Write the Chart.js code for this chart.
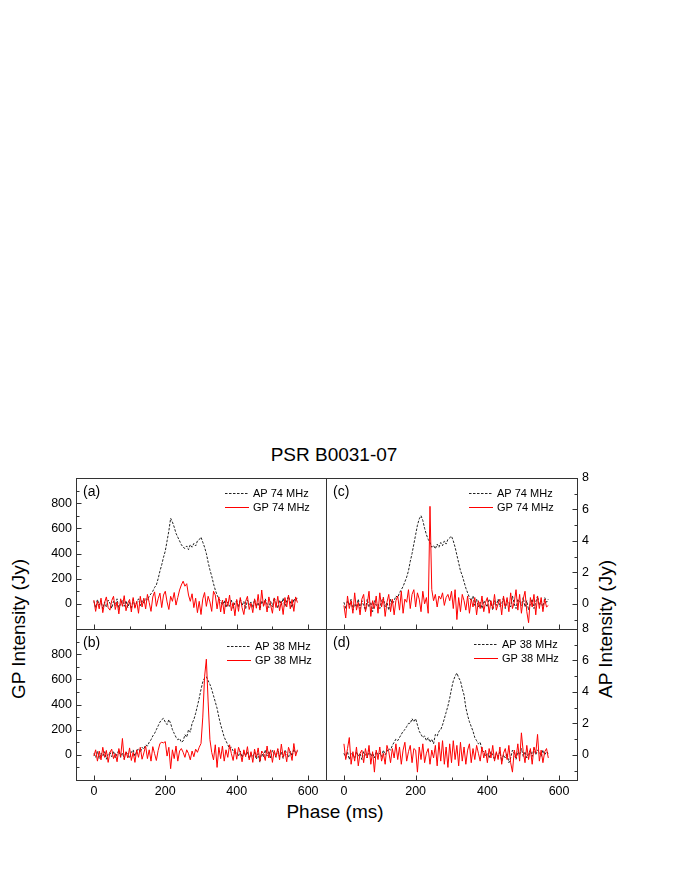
<!DOCTYPE html>
<html><head><meta charset="utf-8">
<script src="https://cdn.jsdelivr.net/npm/chart.js@4"></script>
<style>
html,body{margin:0;padding:0;background:#fff;}
#wrap{position:relative;width:675px;height:873px;overflow:hidden;font-family:"Liberation Sans",Arial,sans-serif;color:#000;}
.pc{position:absolute;}
.txt{position:absolute;white-space:nowrap;line-height:1;}
</style></head><body>
<div id="wrap">
 <div class="txt" style="left:334px;top:454px;font-size:19px;transform:translate(-50%,-50%);">PSR B0031-07</div>
 <div class="txt" style="left:18px;top:629px;font-size:19px;transform:translate(-50%,-50%) rotate(-90deg);">GP Intensity (Jy)</div>
 <div class="txt" style="left:605px;top:629px;font-size:19px;transform:translate(-50%,-50%) rotate(-90deg);">AP Intensity (Jy)</div>
 <div class="txt" style="left:335px;top:811px;font-size:19px;transform:translate(-50%,-50%);">Phase (ms)</div>
</div>
<script>
// ---- data ----
const phase = [0,5,10,15,20,25,30,35,40,45,50,55,60,65,70,75,80,85,90,95,100,105,110,115,120,125,130,135,140,145,150,155,160,165,170,175,180,185,190,195,200,205,210,215,220,225,230,235,240,245,250,255,260,265,270,275,280,285,290,295,300,305,310,315,320,325,330,335,340,345,350,355,360,365,370,375,380,385,390,395,400,405,410,415,420,425,430,435,440,445,450,455,460,465,470,475,480,485,490,495,500,505,510,515,520,525,530,535,540,545,550,555,560,565,570];

// (a) 74 MHz, GP-intensity units
const apA = [20,-30,35,-10,25,-40,15,-25,30,5,
 -35,20,-15,40,-45,10,30,-20,25,-30,
 15,-40,35,-25,10,40,-15,30,5,45,
 30,60,80,100,130,150,200,260,310,370,
 420,500,580,680,650,610,560,530,500,470,
 450,440,460,430,470,450,480,460,500,510,
 530,490,450,400,330,270,220,160,110,70,
 40,20,-10,25,-30,15,-20,30,-35,10,
 25,-25,40,-15,20,-40,30,-10,15,-30,
 35,-20,10,-45,25,-15,40,-5,-30,20,
 -25,50,10,-35,30,-10,45,-20,25,60,
 15,-30,40,20,55];
const gpA = [30,-60,20,-40,45,-70,10,55,-30,-50,
 25,60,-45,15,-80,40,-20,65,-55,5,
 35,-65,50,-35,20,-75,60,-25,45,-40,
 75,10,-60,55,95,-20,40,85,-30,70,
 100,15,-45,60,20,90,-10,50,110,150,
 180,140,160,70,20,80,-30,45,-70,20,
 -85,40,90,-20,60,15,-60,100,70,-40,
 55,-65,30,-80,45,-20,70,-55,10,-95,
 35,-60,50,-30,-85,20,60,-45,5,-70,
 40,-35,75,-50,110,-20,30,-65,55,-10,
 -75,45,-30,60,-55,20,-85,50,-25,70,
 -40,35,-60,55,10];

// (b) 38 MHz, GP-intensity units
const apB = [10,-20,30,-30,15,-10,25,-35,5,20,
 -15,30,-25,10,35,-20,15,-30,25,0,
 -25,20,40,-10,30,50,20,60,45,80,
 70,100,120,150,170,200,230,260,280,290,
 260,240,280,250,200,170,140,120,130,100,
 110,160,140,200,180,250,280,330,390,450,
 520,580,610,620,590,560,520,470,420,370,
 300,240,190,140,110,80,50,60,30,10,
 20,-10,30,-20,15,-5,25,-30,10,-15,
 20,-35,10,-60,25,-20,40,-10,30,-25,
 35,10,-20,45,-15,25,-30,40,10,-20,
 30,-10,45,15,25];
const gpB = [-10,40,-50,30,-40,60,-20,35,-60,20,
 45,-30,10,-55,50,-15,130,-40,25,-25,
 55,-45,20,-60,40,-20,60,-35,15,70,
 -30,40,-50,65,10,-45,35,90,100,95,
 105,-10,60,-110,40,-30,70,-50,30,50,
 20,-20,40,10,-40,30,-15,45,20,60,
 90,300,620,760,420,120,20,-40,80,-100,
 60,-30,70,-50,40,-20,80,10,-45,50,
 -35,60,20,-55,40,-15,65,-40,25,-60,
 45,-20,55,-50,30,10,-45,70,-25,40,
 -60,35,-15,50,-40,85,-20,30,-55,60,
 20,-45,90,-10,40];

// (c) 74 MHz, AP-intensity units
const apC = [0.1,-0.3,0.2,-0.1,0.3,-0.4,0.0,-0.2,0.3,-0.3,
 0.2,-0.1,-0.4,0.3,-0.2,0.1,-0.5,0.2,-0.1,0.0,
 -0.3,0.2,0.4,-0.2,0.1,-0.4,0.3,0.0,0.2,0.5,
 0.4,0.7,0.9,1.1,1.4,1.7,2.1,2.7,3.2,3.8,
 4.4,5.0,5.4,5.6,5.3,4.8,4.4,4.1,3.9,3.6,
 3.7,3.5,3.8,3.6,3.9,3.7,4.0,3.8,4.1,4.2,
 4.3,4.0,3.6,3.1,2.6,2.1,1.8,1.4,1.0,0.7,
 0.4,0.2,0.5,-0.1,0.3,-0.2,0.1,-0.3,0.2,0.0,
 -0.2,0.3,0.1,-0.4,0.2,-0.1,0.3,-0.2,0.0,0.4,
 -0.3,0.2,0.1,-0.2,0.5,0.0,-0.3,0.3,0.1,-0.1,
 0.4,-0.2,0.2,-0.4,0.0,0.3,-0.3,0.1,0.5,-0.1,
 0.2,-0.3,0.4,0.1,0.3];
const gpC = [-0.1,-0.9,0.5,-0.3,0.2,-0.6,0.7,-0.4,0.1,-0.7,
 0.3,0.6,-0.5,0.0,0.8,-0.8,0.2,-0.3,0.5,-0.6,
 0.7,-0.2,0.4,-0.8,0.1,0.6,-0.5,0.3,-0.7,0.2,
 0.5,-0.4,0.8,-0.6,0.3,0.1,0.9,-0.3,0.6,0.9,
 -0.2,0.7,0.3,-0.5,0.8,0.0,0.4,-0.6,6.2,0.9,
 0.2,0.6,-0.2,0.5,0.3,0.7,-0.1,0.4,0.6,0.2,
 0.8,-0.3,0.9,-1.0,0.4,-0.5,0.6,0.2,-0.4,0.5,
 -0.6,0.3,-0.2,0.4,-0.7,0.2,-0.3,0.5,-0.5,0.1,
 0.4,-0.6,0.2,-0.3,0.6,-0.4,0.0,0.3,-0.7,0.5,
 -0.2,0.4,-0.5,0.7,-0.3,0.1,0.9,-0.4,0.6,-0.6,
 0.3,0.8,-0.5,-1.2,0.4,-0.2,0.6,-0.7,0.5,-0.3,
 0.4,-0.5,0.3,-0.2,-0.1];

// (d) 38 MHz, AP-intensity units
const apD = [0.1,-0.2,0.2,-0.3,0.1,0.0,-0.2,0.2,-0.1,0.1,
 -0.3,0.2,0.0,-0.2,0.3,-0.1,0.1,-0.2,0.2,0.0,
 0.1,-0.1,0.3,0.0,0.2,0.4,0.3,0.6,0.8,1.0,
 0.9,1.1,1.3,1.5,1.6,1.8,2.0,2.0,2.3,2.1,
 2.3,1.9,1.5,1.3,1.1,1.2,0.9,1.1,0.8,1.0,
 0.7,1.3,1.2,1.5,1.6,1.9,2.3,2.7,3.1,3.6,
 4.2,4.7,5.0,5.2,4.9,4.7,4.2,3.8,3.0,2.5,
 2.1,1.8,1.5,1.1,0.9,0.7,0.8,0.3,0.2,-0.1,
 0.1,-0.2,0.2,0.0,-0.3,0.1,-0.1,0.2,-0.4,0.0,
 -0.2,0.1,-0.5,-0.2,0.3,0.1,-0.3,0.2,0.0,0.4,
 -0.1,0.2,-0.2,0.1,0.3,-0.1,0.4,0.0,0.3,0.2,
 -0.1,0.3,0.0,0.2,0.1];
const gpD = [0.7,-0.3,0.4,1.1,-0.6,0.2,-0.4,0.5,-0.7,0.1,
 0.3,-0.5,0.4,-0.2,0.6,-0.6,0.2,-1.1,0.3,-0.3,
 0.5,-0.4,0.1,-0.6,0.6,0.2,-0.5,0.4,-0.2,0.7,
 -0.3,0.5,-0.6,0.3,0.8,-0.4,0.2,0.6,-0.5,0.4,
 0.3,-1.1,0.5,-0.3,0.7,-0.5,0.1,0.4,-0.6,0.3,
 -0.2,0.6,-0.7,0.8,-0.4,0.9,-0.6,0.5,-0.8,0.7,
 -0.5,0.9,-0.3,0.6,-0.7,0.8,-0.4,0.5,-0.6,0.3,
 0.7,-0.5,0.4,-0.3,0.6,0.1,-0.4,0.5,-0.2,0.3,
 -0.5,0.4,-0.2,0.6,-0.4,0.2,-0.3,0.5,-0.6,0.1,
 0.4,-0.3,0.6,-0.5,-1.1,0.3,-0.2,0.7,-0.4,1.4,
 0.2,-0.5,0.6,-0.3,0.4,-0.6,0.5,0.1,1.3,-0.4,
 0.3,-0.5,0.2,0.4,-0.2];

// ticks
const phaseTicks = [0,200,400,600];
const phaseMarks = [0,100,200,300,400,500,600];
const gpTicks = [0,200,400,600,800];
const gpMarks = [-100,0,100,200,300,400,500,600,700,800,900];
const apTicks = [0,2,4,6,8];
const apMarks = [-1,0,1,2,3,4,5,6,7,8];
const gpRange = [-200,1000];
const apRange = [-1.6,8];
const phaseRange = [-50,650];

// ---- layout ----
const FONT = '"Liberation Sans", Arial, sans-serif';
const panels = [
 {tag:'(a)', box:[76,478,250,151], side:'left',  xLabels:false, drawTop:true,  ap:apA, gp:gpA, apLabel:'AP 74 MHz', gpLabel:'GP 74 MHz', leg:[149,15]},
 {tag:'(b)', box:[76,629,250,151], side:'left',  xLabels:true,  drawTop:false, ap:apB, gp:gpB, apLabel:'AP 38 MHz', gpLabel:'GP 38 MHz', leg:[151,17]},
 {tag:'(c)', box:[326,478,251,151], side:'right', xLabels:false, drawTop:true,  ap:apC, gp:gpC, apLabel:'AP 74 MHz', gpLabel:'GP 74 MHz', leg:[143,15]},
 {tag:'(d)', box:[326,629,251,151], side:'right', xLabels:true,  drawTop:false, ap:apD, gp:gpD, apLabel:'AP 38 MHz', gpLabel:'GP 38 MHz', leg:[148,15]}
];

const framePlugin = {
  id: 'frame',
  afterDraw(chart, args, o) {
    const ctx = chart.ctx, a = chart.chartArea;
    const L = Math.round(a.left), T = Math.round(a.top), R = Math.round(a.right), B = Math.round(a.bottom);
    ctx.save();
    ctx.strokeStyle = '#333'; ctx.lineWidth = 1; ctx.setLineDash([]);
    ctx.beginPath();
    ctx.moveTo(L + 0.5, T); ctx.lineTo(L + 0.5, B + 1);
    ctx.moveTo(R + 0.5, T); ctx.lineTo(R + 0.5, B + 1);
    ctx.moveTo(L, B + 0.5); ctx.lineTo(R + 1, B + 0.5);
    if (o.drawTop) { ctx.moveTo(L, T + 0.5); ctx.lineTo(R + 1, T + 0.5); }
    const xs = chart.scales.x, ys = chart.scales.y;
    o.xMarks.forEach(v => {
      const px = Math.round(xs.getPixelForValue(v)) + 0.5;
      const len = o.xMajor.includes(v) ? 5 : 3;
      ctx.moveTo(px, B + 0.5); ctx.lineTo(px, B + 0.5 - len);
    });
    o.yMarks.forEach(v => {
      const py = Math.round(ys.getPixelForValue(v)) + 0.5;
      const len = o.yMajor.includes(v) ? 5 : 3;
      if (o.side === 'left') { ctx.moveTo(L + 0.5, py); ctx.lineTo(L + 0.5 + len, py); }
      else { ctx.moveTo(R + 0.5, py); ctx.lineTo(R + 0.5 - len, py); }
    });
    ctx.stroke();
    // panel tag
    ctx.fillStyle = '#000';
    ctx.font = '14px ' + FONT;
    ctx.textBaseline = 'middle'; ctx.textAlign = 'left';
    ctx.fillText(o.tag, L + 7, T + 14);
    // legend
    ctx.font = '11px ' + FONT;
    const ds = chart.data.datasets;
    ds.forEach((d, i) => {
      const lx = L + o.leg[0], ly = Math.round(T + o.leg[1] + i * 14) + 0.5;
      ctx.strokeStyle = d.borderColor; ctx.lineWidth = d.borderWidth;
      ctx.setLineDash(d.borderDash || []);
      ctx.beginPath(); ctx.moveTo(lx, ly); ctx.lineTo(lx + 24, ly); ctx.stroke();
      ctx.setLineDash([]);
      ctx.fillText(d.label, lx + 28, ly);
    });
    ctx.restore();
  }
};

const wrap = document.getElementById('wrap');
panels.forEach(p => {
  const [bx, by, bw, bh] = p.box;
  const padL = 50, padR = 50, padT = 20, padB = 28;
  const W = bw + padL + padR, H = bh + padT + padB;
  const div = document.createElement('div');
  div.className = 'pc';
  div.style.left = (bx - padL) + 'px'; div.style.top = (by - padT) + 'px';
  div.style.width = W + 'px'; div.style.height = H + 'px';
  const cv = document.createElement('canvas');
  cv.width = W; cv.height = H; cv.style.width = W + 'px'; cv.style.height = H + 'px';
  div.appendChild(cv); wrap.appendChild(div);
  const yW = 40, xH = p.xLabels ? 22 : 0;
  const isLeft = p.side === 'left';
  const yr = isLeft ? gpRange : apRange;
  const yt = isLeft ? gpTicks : apTicks;
  new Chart(cv, {
    type: 'line',
    data: { datasets: [
      { label: p.apLabel, data: phase.map((x, i) => ({ x: x, y: p.ap[i] })), borderColor: '#222', borderWidth: 1, borderDash: [2.5, 1.5], pointRadius: 0, tension: 0, fill: false, order: 1 },
      { label: p.gpLabel, data: phase.map((x, i) => ({ x: x, y: p.gp[i] })), borderColor: '#ff0000', borderWidth: 1, pointRadius: 0, tension: 0, fill: false, order: 0 }
    ]},
    options: {
      responsive: false, animation: false, devicePixelRatio: 1, events: [],
      layout: { padding: { left: isLeft ? padL - yW : padL, right: isLeft ? padR : padR - yW, top: padT, bottom: padB - xH } },
      scales: {
        x: { type: 'linear', position: 'bottom', min: phaseRange[0], max: phaseRange[1],
          afterBuildTicks: s => { s.ticks = phaseTicks.map(v => ({ value: v })); },
          afterFit: s => { s.height = xH; },
          grid: { display: false, drawTicks: false }, border: { display: false },
          ticks: { display: p.xLabels, padding: 4, color: '#000', font: { family: FONT, size: 12.5 }, autoSkip: false, maxRotation: 0 } },
        y: { type: 'linear', position: p.side, min: yr[0], max: yr[1],
          afterBuildTicks: s => { s.ticks = yt.map(v => ({ value: v })); },
          afterFit: s => { s.width = yW; },
          grid: { display: false, drawTicks: false }, border: { display: false },
          ticks: { padding: isLeft ? 4 : 5, color: '#000', font: { family: FONT, size: 12.5 }, autoSkip: false } }
      },
      plugins: {
        legend: { display: false }, tooltip: { enabled: false },
        frame: { tag: p.tag, leg: p.leg, side: p.side, drawTop: p.drawTop,
          xMarks: phaseMarks, xMajor: phaseTicks,
          yMarks: isLeft ? gpMarks : apMarks, yMajor: yt }
      }
    },
    plugins: [framePlugin]
  });
});
</script>
</body></html>
